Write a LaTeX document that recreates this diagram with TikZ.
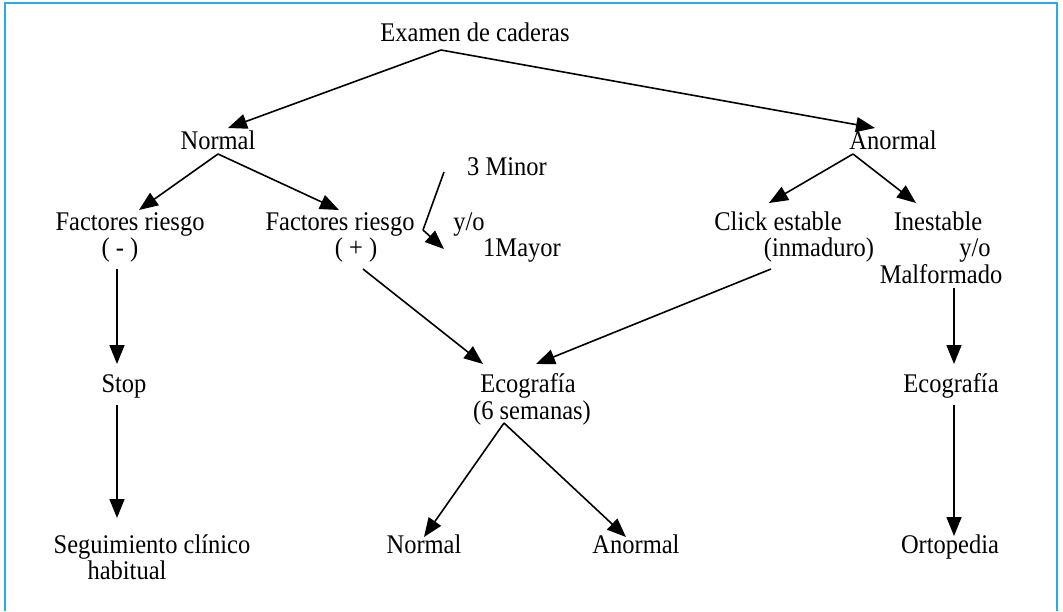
\documentclass[tikz,border=0pt]{standalone}
\usepackage{fontspec}
\usepackage{graphicx}
\setmainfont{Liberation Serif}
\usetikzlibrary{arrows.meta}
\definecolor{frameblue}{RGB}{40,172,230}
\newcommand\vtxt[1]{\scalebox{1}[1.1]{#1}}
\begin{document}
\begin{tikzpicture}[x=1pt,y=-1pt,
  lbl/.style={anchor=base,inner sep=0pt,font=\fontsize{24.5}{26}\selectfont},
  arr/.style={line width=1.6pt,-{Triangle[length=19pt,width=15pt]}},
  seg/.style={line width=1.6pt}]
\useasboundingbox (0,0) rectangle (1063,611);
\draw[frameblue,line width=2pt] (5,611) -- (5,3) -- (1057,3) -- (1057,611);
% texts
\node[lbl] (ex) at (475,41) {\vtxt{Examen de caderas}};
\node[lbl] (nor) at (218,149) {\vtxt{Normal}};
\node[lbl] (anor) at (893,149) {\vtxt{Anormal}};
\node[lbl] (frm) at (130,230) {\vtxt{Factores riesgo}};
\node[lbl] (frmb) at (120,256) {\vtxt{( - )}};
\node[lbl] (frp) at (340,230) {\vtxt{Factores riesgo}};
\node[lbl] (frpb) at (356,256) {\vtxt{( + )}};
\node[lbl] (minor) at (507,175) {\vtxt{3 Minor}};
\node[lbl] (yo1) at (469,230) {\vtxt{y/o}};
\node[lbl] (mayor) at (522,256) {\vtxt{1Mayor}};
\node[lbl] (click) at (778,230) {\vtxt{Click estable}};
\node[lbl] (inm) at (819,256) {\vtxt{(inmaduro)}};
\node[lbl] (ines) at (938,230) {\vtxt{Inestable}};
\node[lbl] (yo2) at (975,256) {\vtxt{y/o}};
\node[lbl] (malf) at (941,283) {\vtxt{Malformado}};
\node[lbl] (stop) at (124,392) {\vtxt{Stop}};
\node[lbl] (eco) at (528,392) {\vtxt{Ecografía}};
\node[lbl] (ecob) at (532,419) {\vtxt{(6 semanas)}};
\node[lbl] (ecor) at (951,392) {\vtxt{Ecografía}};
\node[lbl] (seg) at (152,553) {\vtxt{Seguimiento clínico}};
\node[lbl] (hab) at (127,579) {\vtxt{habitual}};
\node[lbl] (bnor) at (424,553) {\vtxt{Normal}};
\node[lbl] (banor) at (636,553) {\vtxt{Anormal}};
\node[lbl] (orto) at (950,553) {\vtxt{Ortopedia}};
% connector end points
\coordinate (exS) at (441,50);
\coordinate (norN) at (228,128);
\coordinate (anorN) at (875,128);
\coordinate (norS) at (218,154);
\coordinate (frmN) at (139,210);
\coordinate (frpN) at (339,210);
\coordinate (anorS) at (853,154);
\coordinate (clickN) at (769,203);
\coordinate (inesN) at (916,203);
\coordinate (minorW) at (444,172);
\coordinate (kink) at (423,230);
\coordinate (mayorW) at (444,249);
\coordinate (frmS) at (117,269);
\coordinate (stopN) at (117,364);
\coordinate (stopS) at (117,405);
\coordinate (segN) at (117,518);
\coordinate (frpS) at (363,269);
\coordinate (ecoNW) at (483,364);
\coordinate (inmS) at (771,269);
\coordinate (ecoNE) at (536,364);
\coordinate (malfS) at (954,288);
\coordinate (ecorN) at (954,364);
\coordinate (ecorS) at (954,405);
\coordinate (ortoN) at (954,536);
\coordinate (ecoS) at (504,423);
\coordinate (bnorN) at (424,537);
\coordinate (banorN) at (626,537);
% connectors
\draw[arr] (exS) -- (norN);
\draw[arr] (exS) -- (anorN);
\draw[arr] (norS) -- (frmN);
\draw[arr] (norS) -- (frpN);
\draw[arr] (anorS) -- (clickN);
\draw[arr] (anorS) -- (inesN);
\draw[seg] (minorW) -- (kink);
\draw[arr] (kink) -- (mayorW);
\draw[arr] (frmS) -- (stopN);
\draw[arr] (stopS) -- (segN);
\draw[arr] (frpS) -- (ecoNW);
\draw[arr] (inmS) -- (ecoNE);
\draw[arr] (malfS) -- (ecorN);
\draw[arr] (ecorS) -- (ortoN);
\draw[arr] (ecoS) -- (bnorN);
\draw[arr] (ecoS) -- (banorN);
\end{tikzpicture}
\end{document}
